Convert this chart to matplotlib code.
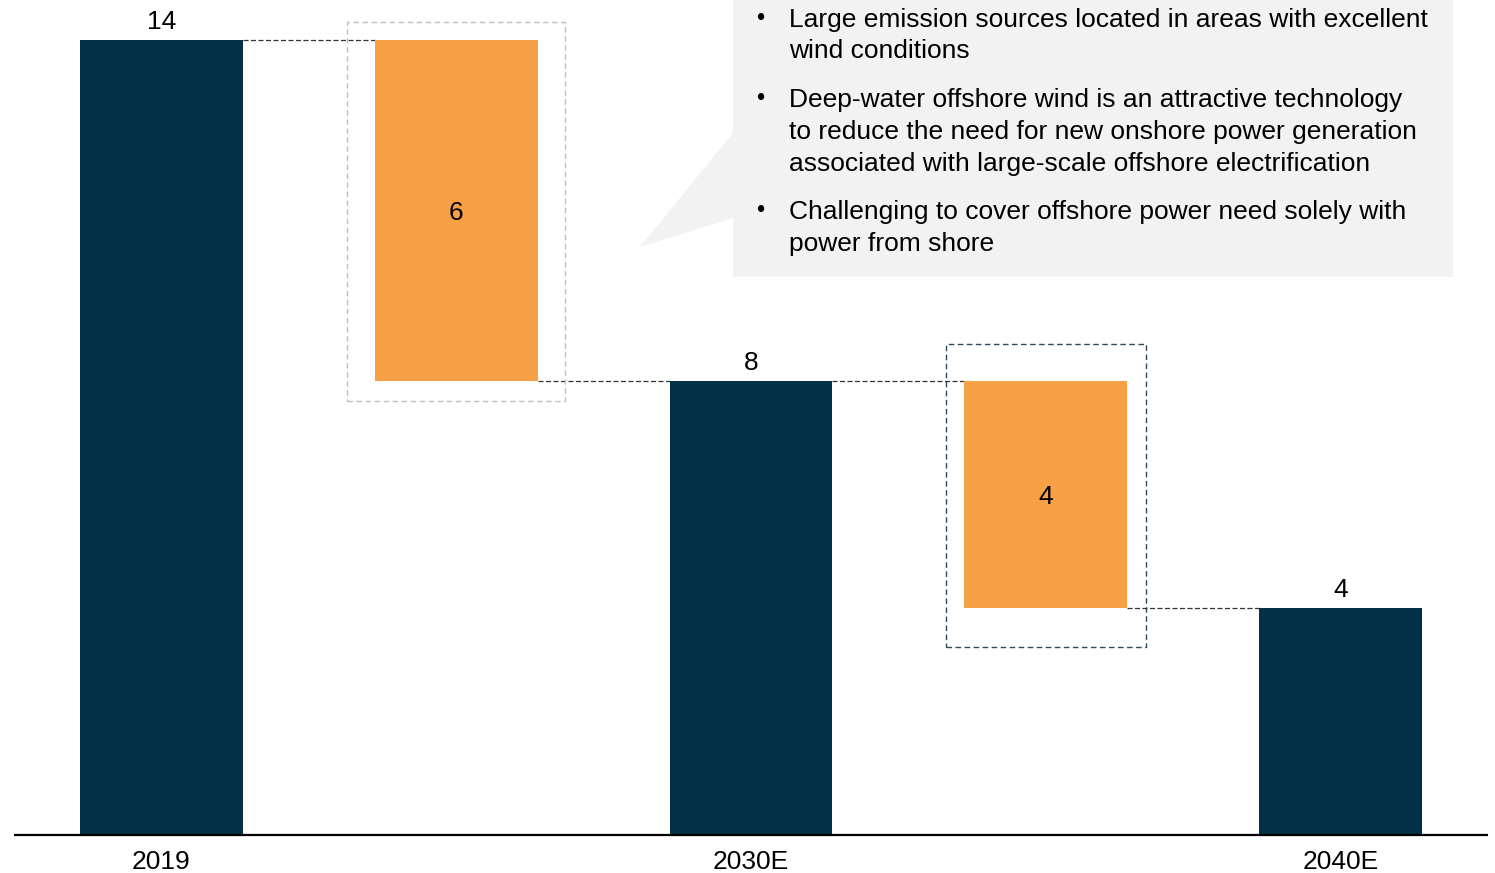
import matplotlib
matplotlib.use("Agg")
import matplotlib.pyplot as plt
from matplotlib.patches import Rectangle, Polygon

plt.rcParams['font.family'] = ['Liberation Sans', 'DejaVu Sans']

# Data
steps = ["2019", "reduction1", "2030E", "reduction2", "2040E"]
tick_labels = ["2019", "", "2030E", "", "2040E"]
totals = {"2019": 14, "2030E": 8, "2040E": 4}
reductions = {"reduction1": 6, "reduction2": 4}
bullets = [
    ["Large emission sources located in areas with excellent", "wind conditions"],
    ["Deep-water offshore wind is an attractive technology",
     "to reduce the need for new onshore power generation",
     "associated with large-scale offshore electrification"],
    ["Challenging to cover offshore power need solely with", "power from shore"],
]

NAVY = "#023047"
ORANGE = "#F7A045"
FS = 19

W, H = 1495, 873
PX_UNIT_X = 294.75
X0 = 161.5
fig = plt.figure(figsize=(W / 100, H / 100), dpi=100)
ax = fig.add_axes([0, (H - 835) / H, 1, 835 / H])
ax.set_xlim(-X0 / PX_UNIT_X, (W - X0) / PX_UNIT_X)
ax.set_ylim(0, 835 / 56.8)

bw = 0.553
level = 0
bottoms, heights, colors = [], [], []
for s in steps:
    if s in totals:
        bottoms.append(0); heights.append(totals[s]); colors.append(NAVY)
        level = totals[s]
    else:
        bottoms.append(level - reductions[s]); heights.append(reductions[s]); colors.append(ORANGE)
        level = level - reductions[s]
xs = list(range(len(steps)))
ax.bar(xs, heights, bottom=bottoms, width=bw, color=colors, zorder=3)

# labels
for x, s, b, h in zip(xs, steps, bottoms, heights):
    if s in totals:
        ax.text(x, b + h + 0.36, str(totals[s]), ha='center', va='center_baseline', fontsize=FS, color='black')
    else:
        ax.text(x, b + h / 2, str(reductions[s]), ha='center', va='center_baseline', fontsize=FS, color='black')

# connectors
tops = [b + h for b, h in zip(bottoms, heights)]
for i in range(len(steps) - 1):
    y = tops[i] if steps[i] in totals else bottoms[i]
    ax.plot([xs[i] + bw / 2, xs[i + 1] - bw / 2], [y, y], ls=(0, (4, 2)), color='#333333', lw=0.9, zorder=2)

# dashed highlight boxes
ax.add_patch(Rectangle((1 - 0.37, 8 - 0.36), 0.74, 6 + 0.67, fill=False,
                       ls=(0, (4, 2.5)), ec='#bfbfbf', lw=1.0, zorder=4))
ax.add_patch(Rectangle((3 - 0.34, 4 - 0.69), 0.68, 4 + 1.33, fill=False,
                       ls=(0, (4, 2.5)), ec='#2c4a5e', lw=1.0, zorder=4))

# baseline
ax.plot([(14 - X0) / PX_UNIT_X, (1488 - X0) / PX_UNIT_X], [0, 0], color='black', lw=1.6,
        clip_on=False, zorder=5, solid_capstyle='butt')

ax.set_xticks(xs)
ax.set_xticklabels(tick_labels, fontsize=FS)
ax.tick_params(axis='x', length=0, pad=11)
ax.set_yticks([])
for sp in ['top', 'left', 'right', 'bottom']:
    ax.spines[sp].set_visible(False)

# callout overlay (pixel coordinates)
ov = fig.add_axes([0, 0, 1, 1], facecolor='none')
ov.set_xlim(0, W); ov.set_ylim(H, 0); ov.axis('off')
ov.add_patch(Polygon([(733, 0), (1453, 0), (1453, 277), (733, 277), (733, 218), (640, 247), (733, 133)],
                     closed=True, fc='#f2f2f2', ec='none', zorder=1))
y = 17
for para in bullets:
    ov.text(756, y, "•", fontsize=17, va='center_baseline', ha='left', color='black')
    for line in para:
        ov.text(789, y, line, fontsize=FS, va='center_baseline', ha='left', color='black')
        y += 32
    y += 16

fig.savefig("out.png", dpi=100)
